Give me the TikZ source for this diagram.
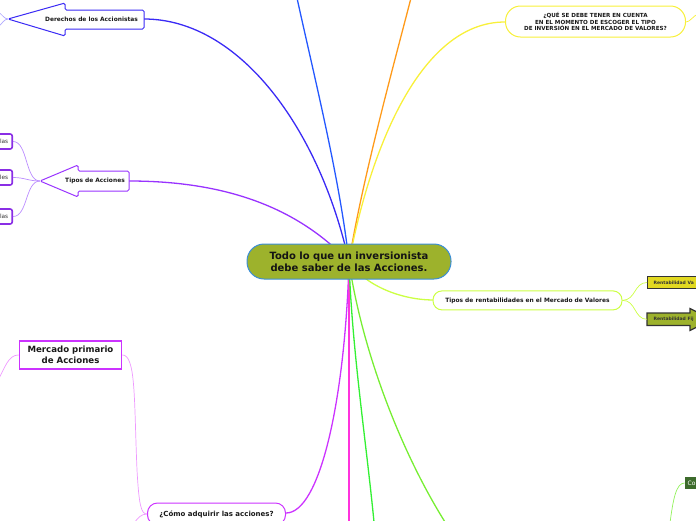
\documentclass[tikz,border=0pt]{standalone}
\usepackage{fontspec}
\setmainfont{DejaVu Sans}
\definecolor{cBlue}{HTML}{2458FF}
\definecolor{cOrange}{HTML}{FF9A1A}
\definecolor{cYellow}{HTML}{F8F03A}
\definecolor{cIndigo}{HTML}{3A2AF5}
\definecolor{cPurple}{HTML}{9933FF}
\definecolor{cLime}{HTML}{CCFF44}
\definecolor{cMag}{HTML}{CC33FF}
\definecolor{cPink}{HTML}{FF33DD}
\definecolor{cGreen}{HTML}{33F033}
\definecolor{cLGreen}{HTML}{77EE33}
\definecolor{cOlive}{HTML}{9DB22C}
\definecolor{cEdge}{HTML}{3B8ED6}
\definecolor{cVa}{HTML}{E2D921}
\definecolor{cCo}{HTML}{3D6B2C}
\definecolor{cLav}{HTML}{BB8CFF}
\definecolor{cLav2}{HTML}{B0A8FF}
\definecolor{cPinkL}{HTML}{EE99FF}
\tikzset{
  mainline/.style={line width=1.3pt},
  subline/.style={line width=0.7pt},
  pill/.style={draw, fill=white, rounded corners=9pt, line width=1pt, inner sep=0pt},
  boldtxt/.style={font=\fontsize{5.9}{6.7}\selectfont\bfseries, text=black!90, align=center, inner sep=0pt},
  childbox/.style={draw=cPurple!90!black, fill=white, line width=1.6pt, rounded corners=2pt, anchor=east,
      inner xsep=4pt, minimum height=15pt, inner ysep=0pt, text=black!80,
      font=\fontsize{5.8}{7}\selectfont},
}
\begin{document}
\begin{tikzpicture}[x=1pt,y=-1pt]
\useasboundingbox (0,0) rectangle (696,520);
% named anchor coordinates
\coordinate (cc) at (349,262);
\coordinate (topBlue) at (297,-2);
\coordinate (topOrange) at (411,-2);
\coordinate (botPink) at (349,522);
\coordinate (botGreen) at (374,522);
\coordinate (botLGreen) at (445,522);
\coordinate (dR) at (144,19);
\coordinate (dTip) at (8,19);
\coordinate (dOut1) at (-2,12);
\coordinate (dOut2) at (-2,27);
\coordinate (tR) at (129,181);
\coordinate (tTip) at (40,181);
\coordinate (mOut) at (-2,380);
\coordinate (cOut) at (134,523);
\coordinate (coOut) at (670,523);
\coordinate (yOut) at (698,14);

% main connectors
\draw[mainline, cBlue] (cc) .. controls (340,180) and (315,80) .. (topBlue);
\draw[mainline, cOrange] (cc) .. controls (362,180) and (395,60) .. (topOrange);
\draw[mainline, cIndigo] (cc) .. controls (320,130) and (240,19) .. (dR);
\draw[mainline, cPurple] (cc) .. controls (300,210) and (230,181) .. (tR);
\draw[mainline, cYellow] (cc) .. controls (370,150) and (420,22) .. (505,22) coordinate (yL);
\draw[mainline, cLime] (cc) .. controls (365,285) and (400,300) .. (434,300);
\draw[mainline, cMag] (cc) .. controls (345,400) and (320,513) .. (286,513);
\draw[mainline, cPink] (cc) -- (botPink);
\draw[mainline, cGreen] (cc) .. controls (352,350) and (366,440) .. (botGreen);
\draw[mainline, cLGreen] (cc) .. controls (362,350) and (400,450) .. (botLGreen);

% central node
\node[draw=cEdge, fill=cOlive, rounded corners=17pt, line width=1pt,
      minimum width=204pt, minimum height=35pt, inner sep=0pt,
      font=\fontsize{10}{12.3}\selectfont\bfseries, text=black!92, align=center]
      (central) at (349,261.5) {Todo lo que un inversionista\\ debe saber de las Acciones.};

% Derechos de los Accionistas (left arrow)
\draw[subline, cLav2] (dTip) .. controls (4,19) and (2,14) .. (dOut1);
\draw[subline, cLav2] (dTip) .. controls (4,19) and (2,24) .. (dOut2);
\draw[cIndigo, fill=white, line width=1pt, rounded corners=1.5pt]
  (144,10) -- (65,10) -- (65,3) -- (dTip) -- (65,36) -- (65,29) -- (144,29) -- cycle;
\node[boldtxt] (derechos) at (91.5,19) {Derechos de los Accionistas};

% Tipos de Acciones (left arrow) and children
\node[childbox] (t1) at (13,141.5) {las};
\node[childbox] (t2) at (13,177.5) {les};
\node[childbox] (t3) at (13,216.5) {las};
\draw[subline, cLav] (tTip) .. controls (25,181) and (28,141.5) .. (t1.east);
\draw[subline, cLav] (tTip) .. controls (28,181) and (25,177.5) .. (t2.east);
\draw[subline, cLav] (tTip) .. controls (25,181) and (28,216.5) .. (t3.east);
\draw[cPurple, fill=white, line width=1pt, rounded corners=1.5pt]
  (129,171) -- (78,171) -- (78,165) -- (tTip) -- (78,197) -- (78,191) -- (129,191) -- cycle;
\node[boldtxt] (tipos) at (95,181) {Tipos de Acciones};

% Yellow question node
\draw[subline, cYellow] (686,22) .. controls (690,22) and (693,16) .. (yOut);
\node[pill, draw=cYellow, rounded corners=15pt, minimum width=180pt, minimum height=31pt,
      font=\fontsize{5.6}{6.7}\selectfont\bfseries, align=center, text=black!90]
      (pregunta) at (595.5,21.5) {¿QUÉ SE DEBE TENER EN CUENTA\\EN EL MOMENTO DE ESCOGER EL TIPO\\DE INVERSIÓN EN EL MERCADO DE VALORES?};

% Tipos de rentabilidades
\node[pill, draw=cLime, minimum width=189pt, minimum height=19pt, boldtxt]
      (rent) at (527.5,300.4) {Tipos de rentabilidades en el Mercado de Valores};
\node[draw=black!80, fill=cVa, line width=1.2pt, anchor=west, minimum height=12pt,
      minimum width=60pt, inner ysep=0pt] (va) at (647,282.5) {};
\node[inner sep=0pt, anchor=west, font=\fontsize{4.5}{5}\selectfont\bfseries, text=black!80]
      (vatxt) at (653.5,282.7) {Rentabilidad Va};
\draw[black!80, fill=cOlive, line width=1.2pt]
  (647,313) -- (690,313) -- (690,308.5) -- (712,319.5) -- (690,330.5) -- (690,325.5) -- (647,325.5) -- cycle;
\node[inner sep=0pt, anchor=west, font=\fontsize{4.5}{5}\selectfont\bfseries, text=black!80]
      (fij) at (653.5,319.5) {Rentabilidad Fij};
\coordinate (fijL) at (647,319.3);
\draw[subline, cLime] (rent.east) .. controls (636,300) and (634,282.5) .. (va.west);
\draw[subline, cLime] (rent.east) .. controls (636,300) and (634,319.3) .. (fijL);

% Mercado primario and Como adquirir
\node[draw=cMag, fill=white, line width=1.6pt, minimum width=102pt, minimum height=28pt,
      inner sep=0pt, font=\fontsize{8.6}{11.5}\selectfont\bfseries, align=center, text=black!90]
      (merc) at (70.5,354.9) {Mercado primario\\ de Acciones};
\node[pill, draw=cMag, rounded corners=10pt, minimum width=138pt, minimum height=22pt,
      font=\fontsize{7}{8}\selectfont\bfseries, text=black!90]
      (como) at (216.5,514) {¿Cómo adquirir las acciones?};
\draw[subline, cPinkL] (merc.west) .. controls (8,355) and (5,368) .. (mOut);
\draw[subline, cPinkL] (merc.east) .. controls (136,355) and (134,400) .. (137,470)
   .. controls (139,505) and (141,514) .. (como.west);
\draw[subline, cPinkL] (como.west) .. controls (141,514) and (138,518) .. (cOut);

% bottom right Co
\node[fill=cCo, anchor=west, minimum height=12.5pt, minimum width=20pt, inner ysep=0pt] (co) at (684.5,483) {};
\node[inner sep=0pt, anchor=west, font=\fontsize{6}{7}\selectfont, text=white] (cotxt) at (687.5,483) {Co};
\draw[subline, cLGreen!80] (co.west) .. controls (676,483) and (673,500) .. (coOut);
\end{tikzpicture}
\end{document}
